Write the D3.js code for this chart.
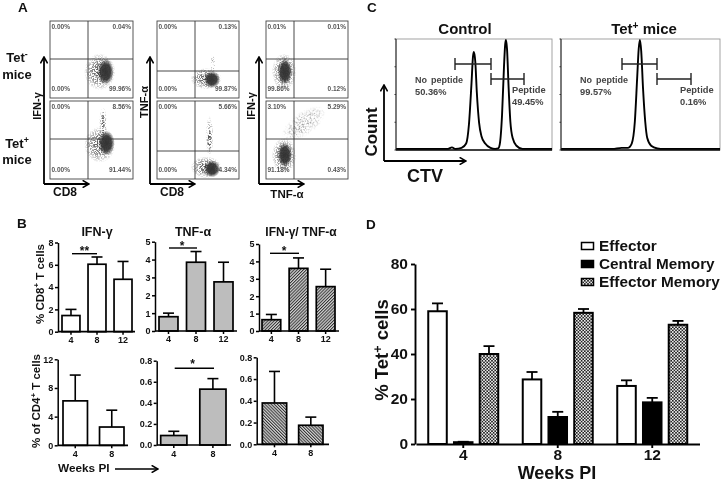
<!DOCTYPE html>
<html><head><meta charset="utf-8">
<script src="https://cdn.jsdelivr.net/npm/d3@7"></script>
<style>
html,body{margin:0;padding:0;background:#fff}
svg{display:block;filter:blur(0.45px)}
text{font-family:"Liberation Sans",Arial,sans-serif;font-weight:bold;fill:#111}
</style></head><body>
<svg id="c" width="725" height="483"></svg>
<script>
// ---------- DATA ----------
const weeks3 = ["4","8","12"];
const weeks2 = ["4","8"];
const cd8IfnMean = [1.45,6.05,4.7],  cd8IfnErr = [2.0,6.7,6.3];
const cd8TnfMean = [0.8,3.85,2.75],  cd8TnfErr = [1.0,4.45,3.85];
const cd8DblMean = [0.65,3.6,2.55],  cd8DblErr = [0.95,4.2,3.55];
const cd4IfnMean = [6.2,2.55],       cd4IfnErr = [9.8,4.9];
const cd4TnfMean = [0.09,0.53],      cd4TnfErr = [0.13,0.63];
const cd4DblMean = [0.38,0.175],     cd4DblErr = [0.67,0.25];
const memorySeries = ["Effector","Central Memory","Effector Memory"];
const effectorMean = [59,28.7,25.8],      effectorErr = [62.5,32,28.3];
const centralMean  = [0.8,12,18.5],       centralErr  = [1.0,14.3,20.5];
const effMemMean   = [40,58.3,53],        effMemErr   = [43.5,60,54.7];
// CTV histograms: channel, % of max
const controlChannel = [0,340,367,390,430,460,478,495,505,511,520,530,545,560,585,620,650,670,680,695,708,716,721,728,738,750,765,790,830,1023];
const controlCount   = [0,0,1.5,0,1,5,22,60,85,89,80,52,24,12,5,1,0,0.5,4,30,75,96,100,92,58,25,10,3,0,0];
const tetChannel = [0,330,390,430,455,475,490,500,508,516,528,542,555,580,620,660,1023];
const tetCount   = [0,0,1,1,5,25,65,92,100,90,55,25,10,3,0.5,0,0];
// Flow plots: quadrant percents [UL, UR, LL, LR]
const quadIfnCd8Neg = ["0.00%","0.04%","0.00%","99.96%"];
const quadIfnCd8Pos = ["0.00%","8.56%","0.00%","91.44%"];
const quadTnfCd8Neg = ["0.00%","0.13%","0.00%","99.87%"];
const quadTnfCd8Pos = ["0.00%","5.66%","0.00%","94.34%"];
const quadDblNeg    = ["0.01%","0.01%","99.86%","0.12%"];
const quadDblPos    = ["3.10%","5.29%","91.18%","0.43%"];
// Flow clouds as [x%, y%, rx, ry, rotation, kind]; kind: core / halo / sparse
const cloudIfnCd8Neg = [[60,34,19,24,0,"halo"],[67,34,10,17,0,"core"]];
const cloudIfnCd8Pos = [[64,71,5,21,0,"sparse"],[64,71,2,17,0,"halo"],[60,44,19,23,0,"halo"],[68,46,10,16,0,"core"]];
const cloudTnfCd8Neg = [[68,45,3,12,0,"sparse"],[60,25,19,14,0,"halo"],[67,24,10,11,0,"core"]];
const cloudTnfCd8Pos = [[64,55,5,26,0,"sparse"],[64,50,3,16,0,"halo"],[60,15,19,14,0,"halo"],[67,13,10,11,0,"core"]];
const cloudDblNeg    = [[22,34,15,24,0,"halo"],[23,34,9,17,0,"core"]];
const cloudDblPos    = [[46,71,31,15,-35,"sparse"],[22,30,15,23,0,"halo"],[23,31,9,16,0,"core"]];

// ---------- HELPERS ----------
const svg = d3.select("#c");
const defs = svg.append("defs");
function hatch(id,rot){
  defs.append("pattern").attr("id",id).attr("width",2.2).attr("height",2.2)
    .attr("patternUnits","userSpaceOnUse").attr("patternTransform",`rotate(${rot})`)
    .call(p=>{p.append("rect").attr("width",2.2).attr("height",2.2).attr("fill","#d4d4d4");
              p.append("rect").attr("width",1).attr("height",2.2).attr("fill","#333");});
}
hatch("hatchR",45); hatch("hatchL",-45);
defs.append("pattern").attr("id","check").attr("width",3.2).attr("height",3.2)
  .attr("patternUnits","userSpaceOnUse")
  .call(p=>{p.append("rect").attr("width",3.2).attr("height",3.2).attr("fill","#eee");
            p.append("rect").attr("width",1.6).attr("height",1.6).attr("fill","#222");
            p.append("rect").attr("x",1.6).attr("y",1.6).attr("width",1.6).attr("height",1.6).attr("fill","#222");});
defs.append("marker").attr("id","head").attr("viewBox","0 0 10 10").attr("refX",9).attr("refY",5)
  .attr("markerWidth",8).attr("markerHeight",8).attr("markerUnits","userSpaceOnUse").attr("orient","auto")
  .append("path").attr("d","M1,0.5L9,5L1,9.5").attr("fill","none").attr("stroke","#000").attr("stroke-width",2);
const speck = (id,freq,slope,icpt)=>{
  const f = defs.append("filter").attr("id",id).attr("x","-20%").attr("y","-20%").attr("width","140%").attr("height","140%")
    .attr("color-interpolation-filters","sRGB");
  f.append("feTurbulence").attr("type","fractalNoise").attr("baseFrequency",freq).attr("numOctaves",2).attr("seed",4).attr("result","n");
  f.append("feColorMatrix").attr("in","n").attr("type","matrix")
    .attr("values",`0 0 0 0 0 0 0 0 0 0 0 0 0 0 0 ${slope} 0 0 0 ${icpt}`).attr("result","a");
  f.append("feComposite").attr("in","SourceGraphic").attr("in2","a").attr("operator","in");
};
speck("speck",0.72,7,-3.0);
speck("speckLight",0.72,7,-3.5);
function radial(id,stops){
  const g = defs.append("radialGradient").attr("id",id);
  stops.forEach(s=>g.append("stop").attr("offset",s[0]).attr("stop-color","#333").attr("stop-opacity",s[1]));
}
radial("fadeCore",[["0%",1],["60%",0.92],["100%",0]]);
radial("fadeHalo",[["0%",0.9],["55%",0.55],["100%",0]]);
radial("fadeSparse",[["0%",0.55],["60%",0.35],["100%",0]]);

function txt(x,y,s,size,opt={}){
  const t = svg.append("text").attr("x",x).attr("y",y).attr("font-size",size)
    .attr("text-anchor",opt.anchor||"start");
  if(opt.fill) t.style("fill",opt.fill);
  if(opt.rotate) t.attr("transform",`rotate(${opt.rotate} ${x} ${y})`);
  if(opt.spacing) t.attr("word-spacing",opt.spacing);
  if(Array.isArray(s)){
    s.forEach(seg=>{
      const sup = seg[1];
      t.append("tspan").attr("font-size",sup?size*0.68:size).attr("dy",sup?-size*0.35:(seg[2]?size*0.35:0)).text(seg[0]);
    });
  } else t.text(s);
  return t;
}
function arrow(x1,y1,x2,y2,w=1.8){
  svg.append("line").attr("x1",x1).attr("y1",y1).attr("x2",x2).attr("y2",y2)
    .attr("stroke","#000").attr("stroke-width",w).attr("marker-end","url(#head)");
}
function line(x1,y1,x2,y2,w=1.2,c="#000"){
  svg.append("line").attr("x1",x1).attr("y1",y1).attr("x2",x2).attr("y2",y2).attr("stroke",c).attr("stroke-width",w);
}

// ---------- PANEL A ----------
const cloudFill = {core:"url(#fadeCore)",halo:"url(#fadeHalo)",sparse:"url(#fadeSparse)"};
function flow(box,vx,hy,cloud,quad){
  const [x0,y0,x1,y1] = box;
  const sx = d3.scaleLinear([0,100],[x0,x1]), sy = d3.scaleLinear([0,100],[y1,y0]);
  const g = svg.append("g");
  g.selectAll("ellipse").data(cloud).join("ellipse")
    .attr("cx",d=>sx(d[0])).attr("cy",d=>sy(d[1]))
    .attr("rx",d=>sx(d[2])-x0).attr("ry",d=>y1-sy(d[3]))
    .attr("transform",d=>`rotate(${d[4]} ${sx(d[0])} ${sy(d[1])})`)
    .attr("fill",d=>cloudFill[d[5]])
    .attr("filter",d=>d[5]==="halo"?"url(#speck)":d[5]==="sparse"?"url(#speckLight)":null);
  g.append("rect").attr("x",x0).attr("y",y0).attr("width",x1-x0).attr("height",y1-y0)
    .attr("fill","none").attr("stroke","#444").attr("stroke-width",0.9);
  g.append("line").attr("x1",vx).attr("x2",vx).attr("y1",y0).attr("y2",y1).attr("stroke","#333").attr("stroke-width",0.9);
  g.append("line").attr("x1",x0).attr("x2",x1).attr("y1",hy).attr("y2",hy).attr("stroke","#333").attr("stroke-width",0.9);
  const c = "#555";
  txt(x0+1.5,y0+8,quad[0],6.5,{fill:c});
  txt(x1-2,y0+8,quad[1],6.5,{fill:c,anchor:"end"});
  txt(x0+1.5,y1-7,quad[2],6.5,{fill:c});
  txt(x1-2,y1-7,quad[3],6.5,{fill:c,anchor:"end"});
}
flow([50,21,133,98],88,59,cloudIfnCd8Neg,quadIfnCd8Neg);
flow([50,101,133,179],88,139,cloudIfnCd8Pos,quadIfnCd8Pos);
flow([157,21,239,98],195,71,cloudTnfCd8Neg,quadTnfCd8Neg);
flow([157,101,239,179],195,151,cloudTnfCd8Pos,quadTnfCd8Pos);
flow([266,21,348,98],294,59,cloudDblNeg,quadDblNeg);
flow([266,101,348,179],294,139,cloudDblPos,quadDblPos);
[[44,89],[150,195],[259,304]].forEach(([x,e])=>{arrow(x,184,x,57);arrow(x,184,e,184);});
txt(18,12,"A",13.5);
txt(17,62,[["Tet"],["-",true]],13,{anchor:"middle"});
txt(17,79,"mice",13,{anchor:"middle"});
txt(17,148,[["Tet"],["+",true]],13,{anchor:"middle"});
txt(17,163.5,"mice",13,{anchor:"middle"});
txt(40.5,106,"IFN-γ",11,{anchor:"middle",rotate:-90});
txt(148,102,"TNF-α",11,{anchor:"middle",rotate:-90});
txt(255,106,"IFN-γ",11,{anchor:"middle",rotate:-90});
txt(65,195.5,"CD8",12,{anchor:"middle"});
txt(172,195.5,"CD8",12,{anchor:"middle"});
txt(287,197.5,"TNF-α",11.5,{anchor:"middle"});

// ---------- PANEL B ----------
function bars(o){
  const y = d3.scaleLinear().domain([0,o.max]).range([o.y0,o.y1]);
  const x = d3.scaleBand().domain(o.cats).range(o.bars).paddingInner(o.pad);
  const g = svg.append("g");
  g.selectAll("line.e").data(o.cats).join("line").attr("class","e")
    .attr("x1",d=>x(d)+x.bandwidth()/2).attr("x2",d=>x(d)+x.bandwidth()/2)
    .attr("y1",(d,i)=>y(o.mean[i])).attr("y2",(d,i)=>y(o.err[i]))
    .attr("stroke","#000").attr("stroke-width",1.6);
  g.selectAll("line.c").data(o.cats).join("line").attr("class","c")
    .attr("x1",d=>x(d)+x.bandwidth()/2-5.5).attr("x2",d=>x(d)+x.bandwidth()/2+5.5)
    .attr("y1",(d,i)=>y(o.err[i])).attr("y2",(d,i)=>y(o.err[i]))
    .attr("stroke","#000").attr("stroke-width",1.6);
  g.selectAll("rect").data(o.cats).join("rect")
    .attr("x",d=>x(d)).attr("width",x.bandwidth())
    .attr("y",(d,i)=>y(o.mean[i])).attr("height",(d,i)=>o.y0-y(o.mean[i]))
    .attr("fill",o.fill).attr("stroke","#000").attr("stroke-width",1.7);
  const ay = svg.append("g").attr("transform",`translate(${o.ax},0)`)
    .call(d3.axisLeft(y).tickValues(o.ticks).tickFormat(o.fmt||d3.format("d")).tickSize(3).tickPadding(1.5).tickSizeOuter(0));
  const ax = svg.append("g").attr("transform",`translate(0,${o.y0})`)
    .call(d3.axisBottom(x).tickSize(3).tickPadding(o.xpad).tickSizeOuter(0));
  ax.select(".domain").remove();
  line(o.ax,o.y0,o.axEnd,o.y0,1.7);
  [ay,ax].forEach(a=>{
    a.selectAll("text").attr("font-size",9).attr("font-family",null);
    a.selectAll("line,.domain").attr("stroke","#000").attr("stroke-width",1.5);
  });
}
const pad3 = 0.31, pad2 = 0.33;
bars({cats:weeks3,mean:cd8IfnMean,err:cd8IfnErr,max:8,y0:331.7,y1:242.5,bars:[62,132],pad:pad3,ax:58,axEnd:135,xpad:2,ticks:[0,2,4,6,8],fill:"#fff"});
bars({cats:weeks3,mean:cd8TnfMean,err:cd8TnfErr,max:5,y0:331,y1:241.7,bars:[159,233],pad:pad3,ax:155,axEnd:237,xpad:2,ticks:[0,1,2,3,4,5],fill:"#bdbdbd"});
bars({cats:weeks3,mean:cd8DblMean,err:cd8DblErr,max:5,y0:331,y1:244,bars:[262,335],pad:pad3,ax:259,axEnd:339,xpad:2,ticks:[0,1,2,3,4,5],fill:"url(#hatchR)"});
bars({cats:weeks2,mean:cd4IfnMean,err:cd4IfnErr,max:12,y0:445.3,y1:359.3,bars:[63,124],pad:pad2,ax:57.7,axEnd:128,xpad:2.5,ticks:[0,4,8,12],fill:"#fff"});
bars({cats:weeks2,mean:cd4TnfMean,err:cd4TnfErr,max:0.8,y0:445,y1:360.7,bars:[160.7,226],pad:pad2,ax:156.7,axEnd:231,xpad:2.5,ticks:[0,0.2,0.4,0.6,0.8],fmt:d3.format(".1f"),fill:"#bdbdbd"});
bars({cats:weeks2,mean:cd4DblMean,err:cd4DblErr,max:0.8,y0:444.3,y1:357.3,bars:[262.3,323],pad:pad2,ax:256.7,axEnd:329,xpad:2.5,ticks:[0,0.2,0.4,0.6,0.8],fmt:d3.format(".1f"),fill:"url(#hatchL)"});
txt(17,228,"B",13.5);
txt(97,236,"IFN-γ",12.5,{anchor:"middle"});
txt(193,236,"TNF-α",12.5,{anchor:"middle"});
txt(301,236,"IFN-γ/ TNF-α",12,{anchor:"middle"});
txt(43.5,284,[["% CD8"],["+",true],[" T cells",false,true]],11.5,{anchor:"middle",rotate:-90});
txt(40,401,[["% of CD4"],["+",true],[" T cells",false,true]],11.5,{anchor:"middle",rotate:-90});
line(72,253.7,97,253.7,1.4); txt(84.5,255,"**",12,{anchor:"middle"});
line(169,248,197,248,1.4); txt(182,250,"*",12,{anchor:"middle"});
line(270,253.3,299,253.3,1.4); txt(284,254.5,"*",12,{anchor:"middle"});
line(174.7,368.3,214,368.3,1.4); txt(192.7,368,"*",12,{anchor:"middle"});
txt(58,471.7,"Weeks PI",11.8);
arrow(115,469,158,469,1.4);

// ---------- PANEL C ----------
function hist(x0,x1,ch,ct){
  const x = d3.scaleLinear([0,1023],[x0,x1]), y = d3.scaleLinear([0,100],[149,40]);
  const pts = d3.zip(ch,ct);
  svg.append("rect").attr("x",x0).attr("y",39).attr("width",x1-x0).attr("height",111)
    .attr("fill","none").attr("stroke","#999").attr("stroke-width",0.9);
  svg.append("path").attr("d",d3.line().x(d=>x(d[0])).y(d=>y(d[1])).curve(d3.curveMonotoneX)(pts))
    .attr("fill","none").attr("stroke","#000").attr("stroke-width",1.9);
  line(x0,39,x0,150,1,"#222"); line(x0,150,x1,150,1.4,"#111");
  const ly = d3.scaleLinear([0,4],[150,39]);
  svg.append("g").selectAll("line").data(d3.range(5)).join("line")
    .attr("x1",x0-1.5).attr("x2",x0).attr("y1",d=>ly(d)).attr("y2",d=>ly(d)).attr("stroke","#333");
}
function gate(x1,x2,y){ line(x1,y,x2,y,1.4,"#222"); line(x1,y-6,x1,y+6,1.4,"#222"); line(x2,y-6,x2,y+6,1.4,"#222"); }
hist(396,552,controlChannel,controlCount);
hist(561,720,tetChannel,tetCount);
gate(455,491,64); gate(491,524,79); gate(622,657,64); gate(657,691,79);
txt(367,12,"C",13.5);
txt(465,34,"Control",15,{anchor:"middle"});
txt(644,34,[["Tet"],["+",true],[" mice",false,true]],15,{anchor:"middle"});
const gl = {fill:"#444",spacing:1.4};
txt(415,83,"No peptide",9,gl); txt(415,95,"50.36%",9.3,gl);
txt(512,93,"Peptide",9.3,gl); txt(512,105,"49.45%",9.3,gl);
txt(580,83,"No peptide",9,gl); txt(580,95,"99.57%",9.3,gl);
txt(680,93,"Peptide",9.3,gl); txt(680,105,"0.16%",9.3,gl);
arrow(384,161,384,85,1.8); arrow(384,161,466,161,1.8);
txt(377,132,"Count",17,{anchor:"middle",rotate:-90});
txt(425,182,"CTV",18,{anchor:"middle"});

// ---------- PANEL D ----------
(function(){
  const y = d3.scaleLinear().domain([0,80]).range([444,264]);
  const group = d3.scaleBand().domain(weeks3).range([416,699.5]);
  const step = group.step();
  const inner = d3.scaleBand().domain(memorySeries).range([step/2-35,step/2+35]).paddingInner(0.28);
  const means = [effectorMean,centralMean,effMemMean], errs = [effectorErr,centralErr,effMemErr];
  const fills = ["#fff","#000","url(#check)"];
  memorySeries.forEach((s,k)=>{
    const g = svg.append("g"), bw = inner.bandwidth();
    const cx = w=>group(w)+inner(s)+bw/2;
    g.selectAll("line.e").data(weeks3).join("line").attr("class","e")
      .attr("x1",cx).attr("x2",cx).attr("y1",(w,i)=>y(means[k][i])).attr("y2",(w,i)=>y(errs[k][i]))
      .attr("stroke","#000").attr("stroke-width",1.8);
    g.selectAll("line.c").data(weeks3).join("line").attr("class","c")
      .attr("x1",w=>cx(w)-5.5).attr("x2",w=>cx(w)+5.5).attr("y1",(w,i)=>y(errs[k][i])).attr("y2",(w,i)=>y(errs[k][i]))
      .attr("stroke","#000").attr("stroke-width",1.8);
    g.selectAll("rect").data(weeks3).join("rect")
      .attr("x",w=>group(w)+inner(s)).attr("width",bw)
      .attr("y",(w,i)=>y(means[k][i])).attr("height",(w,i)=>444-y(means[k][i]))
      .attr("fill",fills[k]).attr("stroke","#000").attr("stroke-width",2);
  });
  const ay = svg.append("g").attr("transform","translate(415,0)")
    .call(d3.axisLeft(y).tickValues([0,20,40,60,80]).tickSize(4).tickPadding(3).tickSizeOuter(0));
  const ax = svg.append("g").attr("transform","translate(0,444)")
    .call(d3.axisBottom(group).tickSize(4).tickPadding(0.5).tickSizeOuter(0));
  [ay,ax].forEach(a=>{
    a.selectAll("text").attr("font-size",15.5).attr("font-family",null);
    a.selectAll("line,.domain").attr("stroke","#000").attr("stroke-width",1.9);
  });
  txt(366,229,"D",13.5);
  txt(557,479,"Weeks PI",18,{anchor:"middle"});
  txt(388,350,[["% Tet"],["+",true],[" cells",false,true]],18.5,{anchor:"middle",rotate:-90});
  memorySeries.forEach((s,k)=>{
    const yy = 246+18*k;
    svg.append("rect").attr("x",581.5).attr("y",yy-3.5).attr("width",12).attr("height",7)
      .attr("fill",fills[k]).attr("stroke","#000").attr("stroke-width",1.5);
    txt(599,yy+5,s,15.3);
  });
})();
</script>
</body></html>
